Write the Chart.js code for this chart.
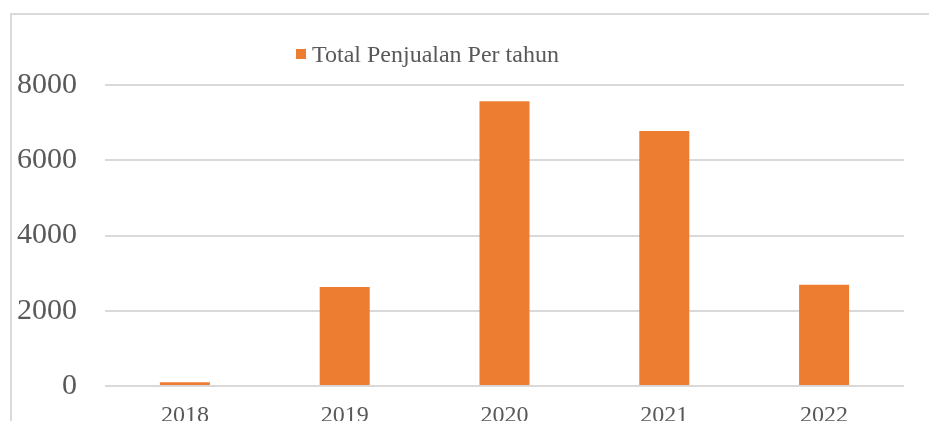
<!DOCTYPE html>
<html>
<head>
<meta charset="utf-8">
<script src="https://cdn.jsdelivr.net/npm/chart.js@4"></script>
<style>
  html, body { margin: 0; padding: 0; background: #fff; overflow: hidden; }
  #wrap { position: relative; width: 929px; height: 421px; overflow: hidden; }
  #frame { position: absolute; left: 10px; top: 13px; width: 1000px; height: 500px;
           border-left: 2px solid #d9d9d9; border-top: 2px solid #d9d9d9; }
  canvas { position: absolute; left: 0; top: 0; }
</style>
</head>
<body>
<div id="wrap">
  <div id="frame"></div>
  <canvas id="c" width="929" height="421"></canvas>
</div>
<script>
const categories = ["2018", "2019", "2020", "2021", "2022"];
const seriesName = "Total Penjualan Per tahun";
const salesValues = [100, 2630, 7570, 6780, 2690];
const yTicks = [0, 2000, 4000, 6000, 8000];

const FONT = "'Liberation Serif', 'Times New Roman', serif";
const TEXT = "#595959";
const ORANGE = "#ED7D31";

const legendPlugin = {
  id: 'customLegend',
  afterDraw(chart) {
    const ds = chart.data.datasets[0];
    const ctx = chart.ctx;
    ctx.save();
    ctx.fillStyle = ds.backgroundColor;
    ctx.fillRect(296, 49, 10, 10);
    ctx.font = "24px " + FONT;
    ctx.fillStyle = TEXT;
    ctx.textBaseline = "alphabetic";
    ctx.textAlign = "left";
    ctx.fillText(ds.label, 312, 62);
    ctx.restore();
  }
};

new Chart(document.getElementById('c'), {
  type: 'bar',
  data: {
    labels: categories,
    datasets: [{
      label: seriesName,
      data: salesValues,
      backgroundColor: ORANGE,
      borderWidth: 0,
      barPercentage: 0.313,
      categoryPercentage: 1.0
    }]
  },
  options: {
    responsive: false,
    maintainAspectRatio: false,
    animation: false,
    layout: { padding: { left: 15, right: 25, top: 85, bottom: 0 } },
    plugins: {
      legend: { display: false },
      tooltip: { enabled: false }
    },
    scales: {
      x: {
        grid: { display: false, drawTicks: false },
        border: { display: false },
        ticks: { font: { family: FONT, size: 24 }, color: TEXT, padding: 15, maxRotation: 0 },
        afterFit(s) { s.height = 35; }
      },
      y: {
        min: 0, max: 8000,
        afterBuildTicks(s) { s.ticks = yTicks.map(v => ({ value: v })); },
        grid: { color: "#d9d9d9", lineWidth: 2, drawTicks: false },
        border: { display: false },
        ticks: { font: { family: FONT, size: 30 }, color: TEXT, padding: 28,
                 callback: (v) => String(v) },
        afterFit(s) { s.width = 90; s.paddingTop = 0; s.paddingBottom = 0; }
      }
    }
  },
  plugins: [legendPlugin]
});
</script>
</body>
</html>
